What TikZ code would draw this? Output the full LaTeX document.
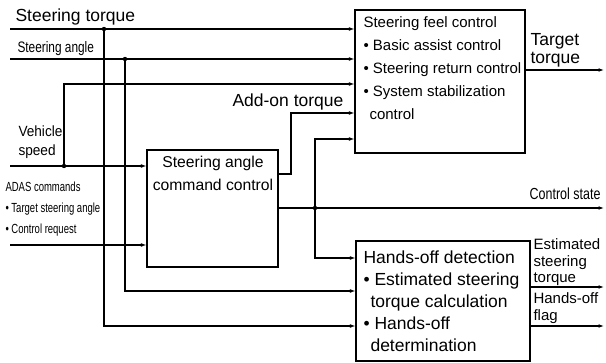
\documentclass[tikz,border=0pt]{standalone}
\usepackage{fontspec}
\setmainfont{Liberation Sans}
\newfontfamily\condfont[FakeStretch=0.78]{Liberation Sans}
\newfontfamily\narrowfont[FakeStretch=0.72]{Liberation Sans}
\newfontfamily\semifont[FakeStretch=0.92]{Liberation Sans}
\usetikzlibrary{arrows.meta}
\begin{document}
\begin{tikzpicture}[x=1pt,y=-1pt,
  line width=1.05pt,
  arr/.style={-{Latex[length=5.5pt,width=3.8pt]}},
  blk/.style={draw, line width=1.1pt, inner sep=0pt},
  lbl/.style={anchor=base west, inner sep=0pt},
  dot/.style={circle, fill, inner sep=0pt, minimum size=4.4pt},
  fbig/.style={font=\fontsize{17.5}{20}\selectfont},
  fbox/.style={font=\fontsize{15}{18}\selectfont},
  fhand/.style={font=\fontsize{17.5}{20}\selectfont},
  fcond/.style={font=\condfont\fontsize{15.2}{17}\selectfont},
  fsmall/.style={font=\narrowfont\fontsize{13.2}{15}\selectfont},
  fright/.style={font=\fontsize{15}{17}\selectfont}
]
\useasboundingbox (0,0) rectangle (606,363);

% blocks
\node[blk, minimum width=170pt, minimum height=143pt] (feel) at (440,81.5) {};
\node[blk, minimum width=131pt, minimum height=117pt] (cmd) at (212.5,208.5) {};
\node[blk, minimum width=174pt, minimum height=120pt] (hand) at (443,301) {};

% feel text
\node[lbl, fbox] (f1) at (363,28) {Steering feel control};
\node[lbl, fbox] (f2) at (363,51) {• Basic assist control};
\node[lbl, fbox] (f3) at (363,74) {• Steering return control};
\node[lbl, fbox] (f4) at (363,97) {• System stabilization};
\node[lbl, fbox] (f5) at (369,120) {control};

% cmd text
\node[anchor=base, inner sep=0pt, font=\fontsize{15.7}{18}\selectfont] (c1) at (213,168) {Steering angle};
\node[anchor=base, inner sep=0pt, font=\fontsize{15.7}{18}\selectfont] (c2) at (213,191) {command control};

% hands-off text
\node[lbl, fhand] (h1) at (363,264) {Hands-off detection};
\node[lbl, fhand] (h2) at (363,286) {• Estimated steering};
\node[lbl, fhand] (h3) at (370,308) {torque calculation};
\node[lbl, fhand] (h4) at (363,330) {• Hands-off};
\node[lbl, fhand] (h5) at (370,352) {determination};

% left labels
\node[lbl, fbig] (lt) at (15,22) {Steering torque};
\node[lbl, fcond] (la) at (17,53) {Steering angle};
\node[lbl, font=\semifont\fontsize{14.8}{17}\selectfont] (lv1) at (18,137) {Vehicle};
\node[lbl, font=\semifont\fontsize{14.8}{17}\selectfont] (lv2) at (18,156) {speed};
\node[lbl, fsmall] (ad1) at (5,192) {ADAS commands};
\node[lbl, fsmall] (ad2) at (5,213) {• Target steering angle};
\node[lbl, fsmall] (ad3) at (5,234) {• Control request};
\node[lbl, fbig] (addon) at (232,107) {Add-on torque};

% right labels
\node[lbl, fbig] (tt1) at (530,46) {Target};
\node[lbl, fbig] (tt2) at (530,64) {torque};
\node[anchor=base east, inner sep=0pt, font=\condfont\fontsize{16}{17}\selectfont] (cs) at (601,200) {Control state};
\node[lbl, fright] (e1) at (533,250) {Estimated};
\node[lbl, fright] (e2) at (533,267) {steering};
\node[lbl, fright] (e3) at (533,283) {torque};
\node[lbl, fright] (ho1) at (533,304) {Hands-off};
\node[lbl, fright] (ho2) at (533,321) {flag};

% coordinates
\coordinate (sT) at (10,29);
\coordinate (sA) at (10,59);
\coordinate (sV) at (10,166);
\coordinate (sC) at (10,245);
\node[dot] (dT) at (104,29) {};
\node[dot] (dA) at (125,59) {};
\node[dot] (dV) at (64,166) {};
\node[dot] (dS) at (315,208) {};
\coordinate (vTop) at (64,84);
\coordinate (tB) at (104,326);
\coordinate (aB) at (125,291);
\coordinate (addX) at (291,174);
\coordinate (addY) at (291,113);
\coordinate (sUp) at (315,139);
\coordinate (sDn) at (315,258);
\coordinate (oTT) at (604,70);
\coordinate (oCS) at (604,208);
\coordinate (oE) at (604,287);
\coordinate (oH) at (604,326);

% connectors
\draw[arr] (sT) -- (sT -| feel.west);
\draw[arr] (sA) -- (sA -| feel.west);
\draw[arr] (sV) -- (sV -| cmd.west);
\draw[arr] (sC) -- (sC -| cmd.west);
\draw[arr] (dV.center) -- (vTop) -- (vTop -| feel.west);
\draw[arr] (dT.center) -- (tB) -- (tB -| hand.west);
\draw[arr] (dA.center) -- (aB) -- (aB -| hand.west);
\draw[arr] (addX -| cmd.east) -- (addX) -- (addY) -- (addY -| feel.west);
\draw (dS -| cmd.east) -- (dS.center);
\draw[arr] (dS.center) -- (oCS);
\draw[arr] (dS.center) -- (sUp) -- (sUp -| feel.west);
\draw[arr] (dS.center) -- (sDn) -- (sDn -| hand.west);
\draw[arr] (oTT -| feel.east) -- (oTT);
\draw[arr] (oE -| hand.east) -- (oE);
\draw[arr] (oH -| hand.east) -- (oH);
\end{tikzpicture}
\end{document}
